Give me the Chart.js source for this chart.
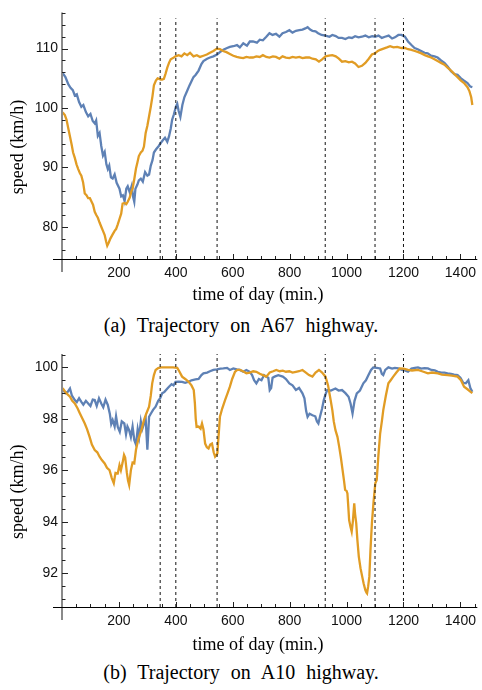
<!DOCTYPE html>
<html><head><meta charset="utf-8">
<script src="https://cdn.jsdelivr.net/npm/chart.js@4"></script>
<style>
body{margin:0;background:#fff;width:482px;height:690px;position:relative;overflow:hidden}
canvas{position:absolute;left:0}
.cap{position:absolute;left:0;width:482px;text-align:center;font-family:"Liberation Serif","Times New Roman",serif;font-size:20px;line-height:20px;color:#000;word-spacing:6px;white-space:nowrap}
</style></head><body>
<canvas id="chartA" width="482" height="310" style="top:0"></canvas>
<div class="cap" style="top:315px">(a) Trajectory on A67 highway.</div>
<canvas id="chartB" width="482" height="320" style="top:340px"></canvas>
<div class="cap" style="top:662px">(b) Trajectory on A10 highway.</div>
<script>
// ---------- data ----------
const markerTimes = [345, 400, 545, 925, 1100, 1200];
const xTickLabels = [200, 400, 600, 800, 1000, 1200, 1400];
const yTicksA = [80, 90, 100, 110];
const yTicksB = [92, 94, 96, 98, 100];

const a67BlueTime = [0,5,12,22,30,38,45,52,60,68,75,84,92,100,108,115,120,126,132,138,144,150,156,161,166,172,178,185,192,202,208,214,220,226,231,238,245,250,254,258,265,270,277,284,292,300,306,312,318,323,330,340,347,355,362,370,376,382,387,393,400,405,410,416,423,430,440,448,455,462,470,480,490,497,510,520,532,545,555,567,580,590,602,615,625,637,650,660,671,685,695,706,718,729,740,752,764,775,787,799,810,822,834,845,855,863,872,880,891,900,912,926,940,950,962,972,984,996,1008,1019,1030,1042,1054,1066,1078,1090,1100,1112,1124,1135,1148,1160,1170,1182,1193,1205,1216,1228,1239,1250,1262,1274,1285,1297,1309,1320,1332,1344,1355,1367,1379,1390,1402,1413,1425,1435,1442];
const a67BlueSpeed = [105.8,105.7,105.2,104.0,103.4,103.0,102.1,102.3,101.0,100.2,100.5,99.3,98.6,99.0,97.8,97.4,97.9,95.3,95.8,93.6,92.0,92.6,90.5,89.7,90.3,88.3,88.1,88.8,87.4,86.4,85.1,85.3,84.3,86.4,86.8,85.8,86.9,85.0,84.2,86.4,87.1,87.8,88.1,87.6,89.2,88.6,88.8,90.3,91.2,92.5,93.0,93.6,94.1,94.6,95.0,94.3,95.2,96.5,98.0,98.9,100.2,100.7,99.5,98.5,100.5,101.8,102.9,103.8,104.5,105.2,105.6,106.3,107.4,107.9,108.3,108.5,108.7,109.0,109.4,109.8,110.1,110.3,110.4,110.6,110.2,110.9,110.5,111.2,111.2,111.0,111.5,111.4,112.0,112.6,112.3,112.5,112.0,112.6,112.8,113.1,112.7,113.0,113.1,113.2,113.4,113.6,113.2,113.0,112.9,112.6,112.3,112.2,112.0,112.3,112.1,111.8,111.8,111.6,111.9,111.8,112.1,111.9,112.0,112.2,111.9,112.1,112.0,112.2,111.8,112.0,112.2,111.7,111.9,112.3,112.3,112.0,111.2,110.6,110.1,109.9,109.6,109.3,109.2,108.8,108.7,108.5,108.0,107.6,107.0,106.2,105.7,105.6,105.0,104.6,104.2,103.6,103.5];

const a67OrangeTime = [0,5,10,16,22,28,34,39,45,51,57,63,68,74,80,86,92,98,104,109,115,120,126,132,138,144,150,155,159,164,170,178,185,190,196,202,208,213,220,226,231,238,244,248,254,260,265,270,277,283,288,294,300,306,312,318,323,330,336,341,347,352,358,364,370,376,382,390,399,410,420,430,440,450,462,474,485,497,509,520,532,544,555,566,578,590,602,614,625,637,648,660,671,683,695,706,718,729,741,752,764,775,787,799,810,822,834,845,857,869,880,892,903,914,926,938,950,962,973,984,996,1008,1019,1030,1042,1054,1066,1078,1089,1100,1110,1118,1130,1142,1153,1165,1178,1193,1205,1216,1228,1240,1252,1263,1275,1286,1297,1309,1320,1332,1344,1355,1367,1379,1390,1402,1413,1425,1432,1438,1442];
const a67OrangeSpeed = [99.3,99.1,98.8,98.0,96.6,95.2,93.8,92.5,91.6,90.5,89.7,89.0,88.6,87.5,85.6,85.3,84.8,84.8,84.2,83.7,82.5,82.0,81.5,80.7,80.0,79.3,78.6,77.5,76.8,77.3,78.0,78.7,79.3,79.6,80.4,81.3,82.2,83.9,84.0,83.8,84.2,84.9,86.0,86.4,88.0,89.8,90.8,91.9,92.5,92.8,93.5,95.8,97.0,98.6,100.2,102.0,103.8,104.6,105.0,104.9,104.8,104.8,104.9,105.8,106.8,107.6,108.2,108.4,108.7,108.9,108.7,109.2,108.9,109.3,108.7,108.9,108.6,108.8,109.0,109.3,109.6,110.0,109.9,109.6,109.4,109.1,108.8,108.6,108.5,108.4,108.6,108.5,108.5,108.7,108.6,108.9,108.6,108.5,108.7,108.6,108.3,108.7,108.5,108.4,108.6,108.5,108.6,108.4,108.5,108.5,108.3,108.2,107.8,108.2,108.7,108.8,108.9,108.7,108.3,107.8,107.9,107.7,107.8,107.5,106.9,107.1,107.6,108.3,109.0,109.2,109.6,109.8,110.0,110.2,110.4,110.2,110.3,110.1,110.1,109.9,109.8,109.6,109.4,109.2,108.9,108.7,108.5,108.2,107.9,107.6,107.3,106.8,106.3,105.7,105.2,104.6,104.2,103.5,102.8,101.8,100.5];

const a10BlueTime = [0,5,12,20,28,35,45,52,60,68,75,84,92,100,108,115,122,130,138,145,153,161,168,173,178,185,190,196,203,210,219,225,230,236,242,248,254,260,266,271,277,282,288,294,300,306,312,320,329,338,345,352,360,368,376,385,392,399,410,422,433,445,455,469,480,490,497,510,520,532,545,557,567,580,590,602,614,625,637,648,660,668,675,683,692,701,710,718,725,730,735,740,747,760,776,787,799,810,822,833,845,852,858,863,870,880,890,896,901,907,914,920,926,932,945,961,972,984,996,1007,1014,1021,1028,1036,1047,1059,1068,1077,1086,1094,1106,1118,1124,1129,1136,1147,1160,1170,1182,1195,1205,1216,1228,1240,1251,1262,1274,1286,1298,1310,1321,1333,1344,1355,1367,1378,1390,1400,1410,1419,1428,1435,1442];
const a10BlueSpeed = [99.15,99.12,99.0,99.05,99.18,98.9,98.73,98.65,98.8,98.66,98.55,98.7,98.6,98.5,98.75,98.73,98.5,98.8,98.6,98.45,98.75,98.54,98.2,97.8,97.95,97.7,98.1,97.69,97.5,97.9,97.82,97.4,97.7,97.56,97.3,97.7,97.18,97.0,97.6,97.3,97.9,97.6,97.8,98.0,96.8,98.08,98.2,98.35,98.47,98.7,98.8,98.99,99.05,99.15,99.25,99.35,99.3,99.44,99.45,99.44,99.4,99.44,99.5,99.53,99.55,99.7,99.77,99.8,99.85,99.9,99.92,99.95,99.96,99.98,99.9,99.96,99.92,99.9,99.83,99.9,99.83,99.7,99.5,99.38,99.55,99.5,99.7,99.64,99.6,99.12,99.2,99.6,99.64,99.7,99.64,99.55,99.38,99.3,99.12,99.2,98.99,98.8,98.3,98.08,98.2,98.14,98.1,97.9,97.82,98.1,98.4,98.73,98.95,99.12,99.1,99.18,99.1,99.12,99.0,98.86,98.6,98.21,98.7,98.99,99.1,99.38,99.5,99.7,99.9,100.0,99.98,99.96,99.75,99.7,99.9,100.0,99.95,99.98,99.96,99.9,99.88,99.83,99.95,99.98,100.0,99.95,99.97,99.96,99.9,99.88,99.83,99.8,99.8,99.77,99.75,99.72,99.7,99.6,99.4,99.38,99.5,99.2,99.05];

const a10OrangeTime = [0,5,15,28,36,45,55,63,72,80,88,97,105,115,124,132,140,150,158,167,175,182,188,196,202,207,213,218,222,228,232,236,242,248,254,260,266,271,280,288,296,306,312,317,323,329,338,347,360,375,390,405,412,422,433,445,455,463,467,470,473,480,487,492,497,503,509,515,521,527,533,538,543,546,550,555,563,573,582,590,598,608,616,625,636,648,660,672,683,695,706,718,730,742,753,765,776,787,799,810,822,833,845,857,868,880,891,903,914,926,935,944,950,955,961,968,974,980,986,991,995,1000,1003,1006,1009,1014,1018,1022,1027,1030,1034,1038,1043,1049,1055,1060,1066,1070,1072,1076,1080,1084,1089,1095,1101,1106,1112,1118,1124,1129,1138,1147,1155,1164,1175,1187,1200,1216,1230,1251,1265,1286,1300,1321,1335,1355,1370,1390,1402,1413,1425,1436,1442];
const a10OrangeSpeed = [99.2,99.15,99.0,98.86,98.7,98.6,98.4,98.21,98.0,97.82,97.6,97.3,97.0,96.79,96.7,96.53,96.4,96.27,96.1,96.01,95.7,95.5,95.9,95.88,96.2,96.0,96.3,96.6,96.5,95.9,95.6,95.43,96.0,96.3,96.27,96.8,97.1,97.3,97.6,97.95,98.2,98.47,98.9,99.38,99.7,99.9,99.97,100.0,100.0,100.0,100.0,99.98,99.85,99.64,99.55,99.44,99.3,99.12,98.6,98.0,97.69,97.7,97.62,97.82,97.6,97.04,96.9,96.85,97.0,97.04,96.7,96.53,96.6,96.66,97.3,98.08,98.4,98.73,99.0,99.25,99.55,99.83,99.9,99.9,99.85,99.77,99.8,99.85,99.83,99.75,99.7,99.64,99.8,99.85,99.9,99.85,99.87,99.83,99.85,99.8,99.83,99.85,99.9,99.8,99.7,99.64,99.8,99.9,99.8,99.64,99.3,98.73,98.34,97.9,97.56,97.3,96.92,96.5,96.01,95.6,95.24,95.2,95.1,94.6,94.07,93.8,93.62,94.0,94.72,94.3,93.94,93.3,92.65,92.2,91.87,91.6,91.35,91.25,91.22,91.5,91.87,92.9,93.94,94.8,95.5,95.63,96.6,97.43,97.9,98.34,98.9,99.38,99.5,99.64,99.8,99.96,99.95,99.9,99.88,99.9,99.85,99.77,99.8,99.77,99.72,99.7,99.68,99.64,99.5,99.25,99.15,99.05,99.0];

// ---------- helpers ----------
const BLUE = '#5e81b5', ORANGE = '#e19c24';
const pts = (ts, vs) => ts.map((t, i) => ({x: t, y: vs[i]}));
function markerPts(lo, hi) {
  const out = [];
  markerTimes.forEach(t => { out.push({x: t, y: lo}, {x: t, y: hi}, {x: t, y: null}); });
  return out;
}

const mmaAxes = {
  id: 'mmaAxes',
  afterDraw(chart, args, o) {
    const {ctx, chartArea: a, scales: {x, y}} = chart;
    ctx.save();
    ctx.strokeStyle = '#8a8a8a'; ctx.lineWidth = 2;
    ctx.beginPath(); ctx.moveTo(a.left, a.top); ctx.lineTo(a.left, a.bottom + 13); ctx.stroke();
    ctx.strokeStyle = '#000'; ctx.lineWidth = 1;
    ctx.beginPath(); ctx.moveTo(a.left - 9, a.bottom + 0.5); ctx.lineTo(a.right + 1, a.bottom + 0.5); ctx.stroke();
    ctx.strokeStyle = '#222';
    for (let t = 50; t <= 1450; t += 50) {
      const px = Math.round(x.getPixelForValue(t)) + 0.5;
      const len = (t % 200 === 0) ? 5 : 3;
      ctx.beginPath(); ctx.moveTo(px, a.bottom); ctx.lineTo(px, a.bottom - len); ctx.stroke();
    }
    for (let v = o.minorStart; v <= o.minorEnd + 1e-9; v += o.minorStep) {
      const py = Math.round(y.getPixelForValue(v)) + 0.5;
      const major = o.majors.some(m => Math.abs(m - v) < 1e-6);
      const len = major ? 6 : 3.5;
      ctx.beginPath(); ctx.moveTo(a.left, py); ctx.lineTo(a.left + len, py); ctx.stroke();
    }
    ctx.restore();
  }
};

function makeChart(id, blue, orange, yMin, yMax, dashTop, yTicks, topPad, areaH, canvasH, minor) {
  return new Chart(document.getElementById(id), {
    type: 'line',
    data: {
      datasets: [
        {data: markerPts(yMin, dashTop), borderColor: '#111', borderWidth: 1, borderDash: [3, 3], pointRadius: 0, spanGaps: false, order: 0},
        {data: orange, borderColor: ORANGE, borderWidth: 2.3, pointRadius: 0, tension: 0, order: 1},
        {data: blue, borderColor: BLUE, borderWidth: 2.3, pointRadius: 0, tension: 0, order: 2}
      ]
    },
    options: {
      responsive: false, animation: false,
      layout: {autoPadding: false, padding: {top: topPad, right: 1, left: 0, bottom: 0}},
      plugins: {legend: {display: false}, tooltip: {enabled: false},
        mmaAxes: {majors: yTicks, minorStart: minor[0], minorEnd: minor[1], minorStep: minor[2]}},
      scales: {
        x: {
          type: 'linear', min: 0, max: 1456,
          grid: {display: false, drawTicks: false}, border: {display: false},
          afterBuildTicks: s => { s.ticks = xTickLabels.map(v => ({value: v})); },
          afterFit: s => { s.height = canvasH - topPad - areaH; },
          ticks: {padding: 6, color: '#111', callback: v => String(v),
            font: {family: '"Liberation Sans", Arial, sans-serif', size: 14}, maxRotation: 0, autoSkip: false},
          title: {display: true, text: 'time of day (min.)     ', color: '#000', padding: {top: 0, bottom: 4},
            font: {family: '"Liberation Serif", "Times New Roman", serif', size: 18}}
        },
        y: {
          type: 'linear', min: yMin, max: yMax,
          grid: {display: false, drawTicks: false}, border: {display: false},
          afterBuildTicks: s => { s.ticks = yTicks.map(v => ({value: v})); },
          afterFit: s => { s.width = 62; },
          ticks: {padding: 4, color: '#111', callback: v => String(v),
            font: {family: '"Liberation Sans", Arial, sans-serif', size: 14}, autoSkip: false},
          title: {display: true, text: 'speed (km/h)     ', color: '#000', padding: {top: 7, bottom: 0},
            font: {family: '"Liberation Serif", "Times New Roman", serif', size: 18}}
        }
      }
    },
    plugins: [mmaAxes]
  });
}

makeChart('chartA', pts(a67BlueTime, a67BlueSpeed), pts(a67OrangeTime, a67OrangeSpeed),
  74.56, 116.1, 115.1, yTicksA, 7, 252, 310, [76, 116, 2]);
makeChart('chartB', pts(a10BlueTime, a10BlueSpeed), pts(a10OrangeTime, a10OrangeSpeed),
  90.69, 100.52, 100.52, yTicksB, 14, 253, 320, [91, 100.5, 0.5]);
</script>
</body></html>
